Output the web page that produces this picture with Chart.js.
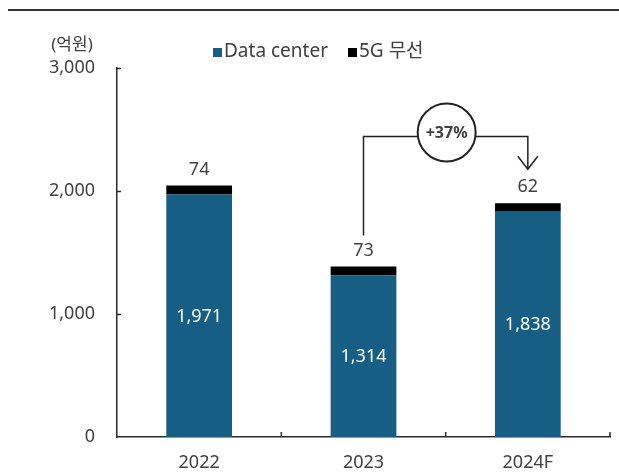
<!DOCTYPE html>
<html>
<head>
<meta charset="utf-8">
<script src="https://cdn.jsdelivr.net/npm/chart.js@4.4.1/dist/chart.umd.min.js"></script>
<style>
  html, body { margin: 0; padding: 0; background: #fff; }
</style>
</head>
<body>
<canvas id="chart" width="619" height="472"></canvas>
<script>
// data
const years = ["2022", "2023", "2024F"];
const dataCenter = [1971, 1314, 1838];
const wireless5g = [74, 73, 62];
const yTicks = [0, 1000, 2000, 3000];
const seriesNames = ["Data center", "5G 무선"];
const unitLabel = "(억원)";
const growthLabel = "+37%";
const growthFrom = 1; // 2023
const growthTo = 2;   // 2024F
const growthLevel = 2450; // height of the bracket, in chart units

const BLUE = "#165e83";
const TEXT = "#404040";
const AXIS = "#2b2b2b";
const FONT = "'Noto Sans', 'Noto Sans CJK KR', sans-serif";

const fmt = (v) => v.toLocaleString("en-US");

const decorations = {
  id: "decorations",
  beforeDraw(chart) {
    const ctx = chart.ctx;
    ctx.save();
    ctx.fillStyle = "#fff";
    ctx.fillRect(0, 0, chart.width, chart.height);
    // header rule
    ctx.strokeStyle = "#333";
    ctx.lineWidth = 2;
    ctx.beginPath();
    ctx.moveTo(8, 10);
    ctx.lineTo(chart.width, 10);
    ctx.stroke();
    ctx.restore();
  },
  afterDraw(chart) {
    const ctx = chart.ctx;
    const x = chart.scales.x;
    const y = chart.scales.y;
    const area = chart.chartArea;
    ctx.save();

    // tick marks on the inside of the axes
    ctx.strokeStyle = AXIS;
    ctx.lineWidth = 1.5;
    ctx.beginPath();
    yTicks.forEach((t) => {
      if (t === 0) return;
      const py = Math.round(y.getPixelForValue(t)) + 0.5;
      ctx.moveTo(area.left, py);
      ctx.lineTo(area.left + 4, py);
    });
    for (let i = 1; i <= years.length; i++) {
      const px = area.left + (area.right - area.left) * i / years.length;
      ctx.moveTo(px, area.bottom);
      ctx.lineTo(px, area.bottom - 5);
    }
    ctx.stroke();

    // unit + legend
    ctx.font = "17px " + FONT;
    ctx.fillStyle = TEXT;
    ctx.textBaseline = "middle";
    ctx.textAlign = "center";
    ctx.fillText(unitLabel, 72, 45);

    ctx.font = "19px " + FONT;
    ctx.textAlign = "left";
    const legendY = 52;
    const colors = [BLUE, "#000"];
    const legendX = [213, 348];
    seriesNames.forEach((name, i) => {
      ctx.fillStyle = colors[i];
      ctx.fillRect(legendX[i], legendY - 4, 9, 9);
      ctx.fillStyle = TEXT;
      ctx.fillText(name, legendX[i] + 11, legendY);
    });

    // value labels
    const m0 = chart.getDatasetMeta(0);
    const m1 = chart.getDatasetMeta(1);
    ctx.font = "18px " + FONT;
    ctx.textAlign = "center";
    m0.data.forEach((bar, i) => {
      ctx.fillStyle = "#fff";
      ctx.fillText(fmt(dataCenter[i]), bar.x, (bar.y + bar.base) / 2 + 1);
    });
    m1.data.forEach((bar, i) => {
      ctx.fillStyle = TEXT;
      ctx.fillText(fmt(wireless5g[i]), bar.x, bar.y - 16);
    });

    // growth bracket
    const a = m1.data[growthFrom];
    const b = m1.data[growthTo];
    const ly = Math.round(y.getPixelForValue(growthLevel)) + 0.5;
    const cx = (a.x + b.x) / 2 + 1;
    const cy = ly - 4;
    const r = 29;
    ctx.strokeStyle = "#222";
    ctx.lineWidth = 1.5;
    ctx.beginPath();
    ctx.moveTo(a.x, a.y - 31);
    ctx.lineTo(a.x, ly);
    ctx.lineTo(cx - Math.sqrt(r * r - 16), ly);
    ctx.moveTo(cx + Math.sqrt(r * r - 16), ly);
    ctx.lineTo(b.x, ly);
    ctx.lineTo(b.x, b.y - 34);
    ctx.moveTo(b.x - 10, b.y - 47);
    ctx.lineTo(b.x, b.y - 34);
    ctx.lineTo(b.x + 10, b.y - 47);
    ctx.stroke();

    ctx.lineWidth = 2;
    ctx.beginPath();
    ctx.arc(cx, cy, r, 0, Math.PI * 2);
    ctx.stroke();
    ctx.font = "bold 16px " + FONT;
    ctx.fillStyle = TEXT;
    ctx.fillText(growthLabel, cx, cy + 1);

    ctx.restore();
  }
};

new Chart(document.getElementById("chart"), {
  type: "bar",
  data: {
    labels: years,
    datasets: [
      { label: seriesNames[0], data: dataCenter, backgroundColor: BLUE },
      { label: seriesNames[1], data: wireless5g, backgroundColor: "#000" }
    ]
  },
  options: {
    responsive: false,
    animation: false,
    events: [],
    layout: { padding: { top: 68, right: 9, bottom: 0, left: 0 } },
    datasets: { bar: { categoryPercentage: 1, barPercentage: 0.4 } },
    plugins: { legend: { display: false }, tooltip: { enabled: false } },
    scales: {
      x: {
        stacked: true,
        grid: { display: false, drawTicks: false },
        border: { display: true, color: AXIS, width: 1.5 },
        ticks: { color: TEXT, font: { size: 18, family: FONT }, padding: 15 },
        afterFit(scale) { scale.height = 35; }
      },
      y: {
        stacked: true,
        min: 0,
        max: 3000,
        afterBuildTicks(scale) { scale.ticks = yTicks.map((v) => ({ value: v })); },
        grid: { display: false, drawTicks: false },
        border: { display: true, color: AXIS, width: 1.5 },
        ticks: {
          color: TEXT,
          font: { size: 18, family: FONT },
          padding: 22,
          callback: (v) => fmt(v)
        },
        afterFit(scale) { scale.width = 117; }
      }
    }
  },
  plugins: [decorations]
});
</script>
</body>
</html>
